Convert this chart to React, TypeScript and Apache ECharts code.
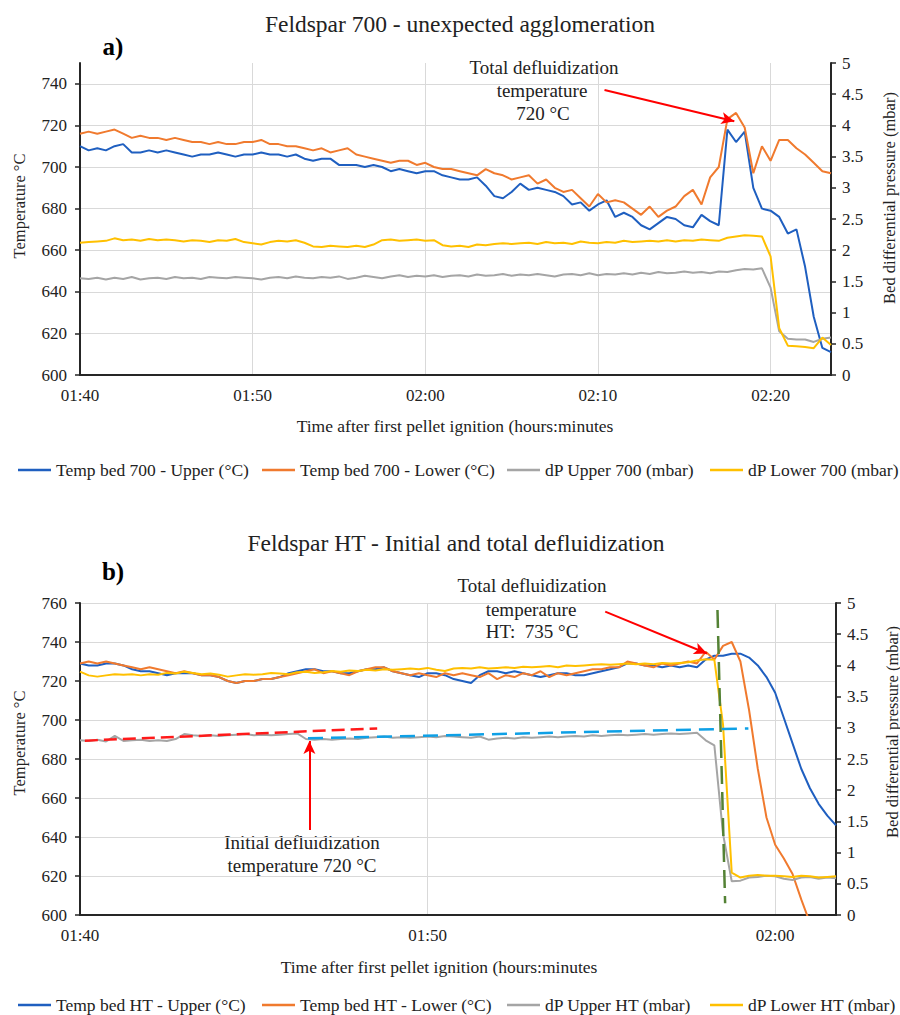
import React, { useEffect, useRef } from "react";
import * as echarts from "echarts";

const FONT = "Liberation Serif";
const TXT = "#222";

// ---------- Chart a: Feldspar 700 (time in minutes after ignition) ----------
const A_START = 100;
const A_STEP = 0.5;
const A_MAX = 143.5;
const A_NAMES = [
  "Temp bed 700 - Upper (°C)",
  "Temp bed 700 - Lower (°C)",
  "dP Upper 700 (mbar)",
  "dP Lower 700 (mbar)",
];
const A_UPPER = [
  710, 708, 709, 708, 710, 711, 707, 707, 708, 707,
  708, 707, 706, 705, 706, 706, 707, 706, 705, 706,
  706, 707, 706, 706, 705, 706, 704, 703, 704, 704,
  701, 701, 701, 700, 701, 700, 698, 699, 698, 697,
  698, 698, 696, 695, 694, 694, 695, 691, 686, 685,
  688, 692, 689, 690, 689, 688, 686, 682, 683, 679,
  682, 684, 676, 678, 676, 672, 670, 673, 676, 675,
  672, 671, 677, 674, 672, 718, 712, 717, 690, 680,
  679, 676, 668, 670, 652, 628, 613, 611,
];
const A_LOWER = [
  716, 717, 716, 717, 718, 716, 714, 715, 714, 714,
  713, 714, 713, 712, 712, 711, 712, 711, 711, 712,
  712, 713, 711, 711, 710, 710, 709, 708, 709, 707,
  708, 709, 706, 705, 704, 703, 702, 703, 703, 701,
  702, 700, 699, 699, 698, 697, 696, 699, 697, 696,
  694, 695, 696, 692, 694, 690, 688, 689, 685, 681,
  687, 683, 684, 683, 680, 677, 681, 676, 679, 681,
  686, 689, 682, 695, 700, 723, 726, 719, 697, 710,
  703, 713, 713, 709, 706, 702, 698, 697,
];
const A_DP_UPPER = [
  1.55, 1.54, 1.56, 1.53, 1.56, 1.54, 1.57, 1.53, 1.55, 1.56,
  1.54, 1.57, 1.55, 1.56, 1.54, 1.57, 1.56, 1.55, 1.57, 1.56,
  1.55, 1.53, 1.56, 1.57, 1.55, 1.58, 1.56, 1.55, 1.57, 1.56,
  1.58, 1.54, 1.56, 1.59, 1.57, 1.55, 1.58, 1.6, 1.57, 1.59,
  1.58, 1.6, 1.57, 1.59, 1.6, 1.58, 1.61, 1.59, 1.6, 1.62,
  1.59, 1.61, 1.6, 1.62, 1.6, 1.58, 1.61, 1.62, 1.6, 1.63,
  1.6, 1.62, 1.61, 1.63, 1.61, 1.64, 1.62, 1.65, 1.63, 1.64,
  1.66, 1.64, 1.65, 1.63, 1.66, 1.65, 1.68, 1.7, 1.69, 1.71,
  1.4, 0.7, 0.58, 0.57, 0.57, 0.53, 0.58, 0.6,
];
const A_DP_LOWER = [
  2.12, 2.13, 2.14, 2.15, 2.19, 2.16, 2.17, 2.15, 2.18, 2.16,
  2.17, 2.16, 2.14, 2.16, 2.15, 2.13, 2.16, 2.15, 2.18, 2.13,
  2.11, 2.09, 2.13, 2.15, 2.14, 2.16, 2.12, 2.06, 2.05, 2.07,
  2.06, 2.05, 2.07, 2.05, 2.09, 2.16, 2.17, 2.15, 2.16, 2.17,
  2.15, 2.16, 2.08, 2.06, 2.07, 2.05, 2.09, 2.08, 2.1, 2.11,
  2.1, 2.11, 2.12, 2.1, 2.13, 2.11, 2.12, 2.1, 2.14, 2.12,
  2.11, 2.13, 2.12, 2.15, 2.13, 2.14, 2.15, 2.14, 2.16, 2.14,
  2.16, 2.15, 2.17, 2.16, 2.15, 2.2, 2.22, 2.24, 2.23, 2.22,
  1.9, 0.75, 0.47, 0.46, 0.45, 0.43, 0.6, 0.48,
];

// ---------- Chart b: Feldspar HT ----------
const B_START = 100;
const B_STEP = 0.25;
const B_MAX = 121.75;
const B_NAMES = [
  "Temp bed HT - Upper (°C)",
  "Temp bed HT - Lower (°C)",
  "dP Upper HT (mbar)",
  "dP Lower HT (mbar)",
];
const B_UPPER = [
  729, 728, 728, 729, 729, 728, 726, 725, 725, 724,
  723, 724, 724, 724, 723, 723, 722, 720, 719, 720,
  720, 721, 721, 722, 724, 725, 726, 726, 725, 725,
  724, 724, 725, 726, 726, 727, 725, 724, 723, 722,
  724, 724, 723, 721, 720, 719, 723, 725, 725, 724,
  725, 724, 723, 722, 723, 724, 724, 723, 723, 724,
  725, 726, 727, 729, 729, 728, 728, 727, 728, 727,
  728, 727, 731, 733, 733, 734, 734, 732, 728, 722,
  714, 701, 688, 675, 665, 657, 651, 646,
];
const B_LOWER = [
  729, 730, 729, 730, 729, 728, 727, 726, 727, 726,
  725, 724, 725, 724, 723, 723, 722, 720, 719, 720,
  720, 721, 721, 722, 723, 724, 725, 726, 724, 725,
  724, 723, 725, 726, 727, 727, 725, 724, 723, 724,
  723, 722, 724, 723, 724, 723, 722, 724, 721, 723,
  722, 724, 723, 725, 722, 724, 723, 724, 725, 726,
  726, 727, 727, 730, 729, 728, 727, 729, 728, 729,
  730, 729, 735, 731, 738, 740, 730, 705, 675, 650,
  636, 629, 621, 608, 596, 588, 581, 575,
];
const B_DP_UPPER = [
  2.8, 2.79, 2.81, 2.78, 2.87, 2.79, 2.8, 2.81, 2.79, 2.8,
  2.79, 2.82, 2.9, 2.88, 2.87, 2.88, 2.87, 2.88, 2.89, 2.9,
  2.88, 2.89, 2.88, 2.89, 2.9, 2.91, 2.82, 2.81, 2.82, 2.81,
  2.82, 2.83, 2.82, 2.84, 2.85, 2.86, 2.84, 2.85, 2.84, 2.85,
  2.86, 2.85, 2.87, 2.86, 2.85, 2.84, 2.86, 2.81, 2.83, 2.84,
  2.83, 2.85, 2.84, 2.85, 2.86, 2.85, 2.86, 2.87, 2.86, 2.88,
  2.87, 2.88, 2.89, 2.88, 2.89, 2.9, 2.89, 2.9, 2.91, 2.9,
  2.91, 2.92, 2.8, 2.72, 1.3, 0.54, 0.55, 0.6, 0.61, 0.63,
  0.62, 0.58, 0.56, 0.6, 0.61, 0.58, 0.6, 0.59,
];
const B_DP_LOWER = [
  3.9, 3.84, 3.82, 3.84, 3.86, 3.85, 3.86, 3.84, 3.86, 3.85,
  3.88, 3.87, 3.9, 3.88, 3.86, 3.87, 3.85, 3.82, 3.84, 3.86,
  3.85, 3.86, 3.88, 3.87, 3.86, 3.89, 3.9, 3.88, 3.89, 3.91,
  3.9, 3.92, 3.91, 3.93, 3.92, 3.94, 3.93, 3.94, 3.95, 3.94,
  3.96, 3.93, 3.91, 3.95, 3.96, 3.95, 3.97, 3.95, 3.96, 3.97,
  3.96, 3.98, 3.97, 3.98, 3.99, 3.97, 4.0, 3.99, 4.0, 4.01,
  4.02, 4.01, 4.02, 4.03, 4.02, 4.03, 4.02, 4.04, 4.03, 4.04,
  4.05, 4.08, 4.1, 4.09, 3.05, 0.68, 0.6, 0.63, 0.64, 0.63,
  0.63, 0.62, 0.61, 0.63, 0.62, 0.6, 0.61, 0.62,
];

// annotation lines, in data coordinates [minutes, °C]
const A_ARROW_TOTAL = [[130.38, 737.0], [137.9, 722.0]];
const B_ARROW_TOTAL = [[115.11, 755.6], [118.04, 734.1]];
const B_ARROW_INITIAL = [[106.6, 643.6], [106.6, 689.2]];
const B_RED_DASH = [[100.14, 689.4], [108.55, 695.7]];
const B_BLUE_DASH = [[106.56, 690.6], [119.23, 695.7]];
const B_GREEN_DASH = [[118.34, 756.4], [118.56, 606.0]];

const COLORS = ["#1F5FC0", "#F07A2E", "#A5A5A5", "#FFC000"];

const fmtTime = (v: number) => {
  const h = Math.floor(v / 60);
  const m = Math.round(v - h * 60);
  return `${String(h).padStart(2, "0")}:${String(m).padStart(2, "0")}`;
};

const pairs = (vals: number[], start: number, step: number) =>
  vals.map((v, i) => [start + step * i, v]);

const axisLineStyle = { color: "#262626", width: 2 };
const labelStyle = { color: TXT, fontSize: 17, fontFamily: FONT };
const gridLine = { color: "#D9D9D9", width: 1 };

function xAxis(grid: number, max: number) {
  return {
    gridIndex: grid,
    type: "value",
    min: 100,
    max,
    interval: 10,
    axisLine: { show: true, onZero: false, lineStyle: axisLineStyle },
    axisTick: { show: false },
    splitLine: { show: true, lineStyle: gridLine },
    axisLabel: { ...labelStyle, margin: 12, formatter: fmtTime, showMaxLabel: false },
  };
}

function yTemp(grid: number, max: number, showMax: boolean) {
  return {
    gridIndex: grid,
    type: "value",
    position: "left",
    min: 600,
    max,
    interval: 20,
    axisLine: { show: true, onZero: false, lineStyle: axisLineStyle },
    axisTick: { show: true, length: 5, lineStyle: { color: "#262626", width: 1.5 } },
    splitLine: { show: true, showMaxLine: showMax, lineStyle: gridLine },
    axisLabel: { ...labelStyle, margin: 13, showMaxLabel: showMax },
  };
}

function yPress(grid: number) {
  return {
    gridIndex: grid,
    type: "value",
    position: "right",
    min: 0,
    max: 5,
    interval: 0.5,
    axisLine: { show: true, onZero: false, lineStyle: axisLineStyle },
    axisTick: { show: true, length: 5, lineStyle: { color: "#262626", width: 1.5 } },
    splitLine: { show: false },
    axisLabel: { ...labelStyle, margin: 11 },
  };
}

function lineSeries(name: string, data: number[][], color: string, xi: number, yi: number, extra: any = {}) {
  return {
    name,
    type: "line",
    xAxisIndex: xi,
    yAxisIndex: yi,
    data,
    showSymbol: false,
    symbol: "none",
    color,
    lineStyle: { color, width: 2 },
    ...extra,
  };
}

const arrowLine = (pts: number[][]) => [
  {
    coord: pts[0],
    symbol: "none",
    lineStyle: { color: "#FF0000", width: 2, type: "solid" },
    itemStyle: { color: "#FF0000" },
  },
  { coord: pts[1], symbol: "arrow", symbolSize: [9, 13], itemStyle: { color: "#FF0000" } },
];

const dashLine = (pts: number[][], color: string, dash: number[]) => [
  { coord: pts[0], symbol: "none", lineStyle: { color, width: 2.5, type: dash } },
  { coord: pts[1], symbol: "none" },
];

const LEGEND_LEFT = [18, 262, 507, 710];

function legends(names: string[], top: number) {
  return names.map((n, i) => ({
    data: [n],
    left: LEGEND_LEFT[i],
    top,
    icon: "rect",
    itemWidth: 33,
    itemHeight: 2.5,
    itemGap: 0,
    padding: 0,
    selectedMode: false,
    textStyle: { color: TXT, fontSize: 17.5, fontFamily: FONT },
  }));
}

const txt = (text: string, x: number, y: number, size = 19, extra: any = {}) => ({
  type: "text",
  x,
  y,
  silent: true,
  style: {
    text,
    fontSize: size,
    fontFamily: FONT,
    fill: TXT,
    align: "center",
    verticalAlign: "middle",
    ...extra,
  },
});

const rtxt = (text: string, x: number, y: number) => ({
  ...txt(text, x, y, 16.5),
  rotation: Math.PI / 2,
});

function buildOption() {
  return {
    animation: false,
    backgroundColor: "#ffffff",
    textStyle: { fontFamily: FONT },
    grid: [
      { left: 80, top: 63, width: 751, height: 312, containLabel: false },
      { left: 80, top: 603, width: 756, height: 312, containLabel: false },
    ],
    xAxis: [xAxis(0, A_MAX), xAxis(1, B_MAX)],
    yAxis: [yTemp(0, 750, false), yPress(0), yTemp(1, 760, true), yPress(1)],
    legend: [...legends(A_NAMES, 461), ...legends(B_NAMES, 996)],
    series: [
      lineSeries(A_NAMES[0], pairs(A_UPPER, A_START, A_STEP), COLORS[0], 0, 0, {
        markLine: {
          silent: true,
          animation: false,
          label: { show: false },
          data: [arrowLine(A_ARROW_TOTAL)],
        },
      }),
      lineSeries(A_NAMES[1], pairs(A_LOWER, A_START, A_STEP), COLORS[1], 0, 0),
      lineSeries(A_NAMES[2], pairs(A_DP_UPPER, A_START, A_STEP), COLORS[2], 0, 1),
      lineSeries(A_NAMES[3], pairs(A_DP_LOWER, A_START, A_STEP), COLORS[3], 0, 1),

      lineSeries(B_NAMES[0], pairs(B_UPPER, B_START, B_STEP), COLORS[0], 1, 2, {
        markLine: {
          silent: true,
          animation: false,
          label: { show: false },
          data: [
            dashLine(B_RED_DASH, "#FF1A1A", [13, 6]),
            dashLine(B_BLUE_DASH, "#0EA0E6", [15, 8]),
            arrowLine(B_ARROW_INITIAL),
            arrowLine(B_ARROW_TOTAL),
          ],
        },
      }),
      lineSeries(B_NAMES[1], pairs(B_LOWER, B_START, B_STEP), COLORS[1], 1, 2),
      lineSeries(B_NAMES[2], pairs(B_DP_UPPER, B_START, B_STEP), COLORS[2], 1, 3),
      lineSeries(B_NAMES[3], pairs(B_DP_LOWER, B_START, B_STEP), COLORS[3], 1, 3),
      // vertical dashed marker drawn on top, on the temperature axis
      {
        name: "marker",
        type: "line",
        xAxisIndex: 1,
        yAxisIndex: 2,
        data: [],
        markLine: {
          silent: true,
          animation: false,
          label: { show: false },
          data: [dashLine(B_GREEN_DASH, "#548235", [18, 8])],
        },
      },
    ],
    graphic: [
      // chart a
      txt("Feldspar 700 - unexpected agglomeration", 460, 24, 23.5),
      txt("a)", 113, 46, 25, { fontWeight: "bold", fill: "#000" }),
      rtxt("Temperature °C", 19, 206),
      rtxt("Bed differential pressure (mbar)", 889, 198),
      txt("Time after first pellet ignition (hours:minutes", 455, 426, 17.5),
      txt("Total defluidization", 544, 67),
      txt("temperature", 542, 90),
      txt("720 °C", 543, 113),
      // chart b
      txt("Feldspar HT - Initial and total defluidization", 456, 543, 23.5),
      txt("b)", 113, 571, 25, { fontWeight: "bold", fill: "#000" }),
      rtxt("Temperature °C", 19, 743),
      rtxt("Bed differential pressure (mbar)", 892, 732),
      txt("Time after first pellet ignition (hours:minutes", 439, 967, 17.5),
      txt("Total defluidization", 532, 585),
      txt("temperature", 531, 609),
      txt("HT:  735 °C", 532, 631),
      txt("Initial defluidization", 302, 842),
      txt("temperature 720 °C", 302, 865),
    ],
  };
}

export default function App() {
  const ref = useRef<HTMLDivElement>(null);
  useEffect(() => {
    if (!ref.current) return;
    const chart = echarts.init(ref.current, null, { renderer: "svg" });
    chart.setOption(buildOption() as any);
    return () => chart.dispose();
  }, []);
  return (
    <div
      ref={ref}
      style={{ position: "absolute", left: 0, top: 0, width: 900, height: 1015, background: "#fff" }}
    />
  );
}
